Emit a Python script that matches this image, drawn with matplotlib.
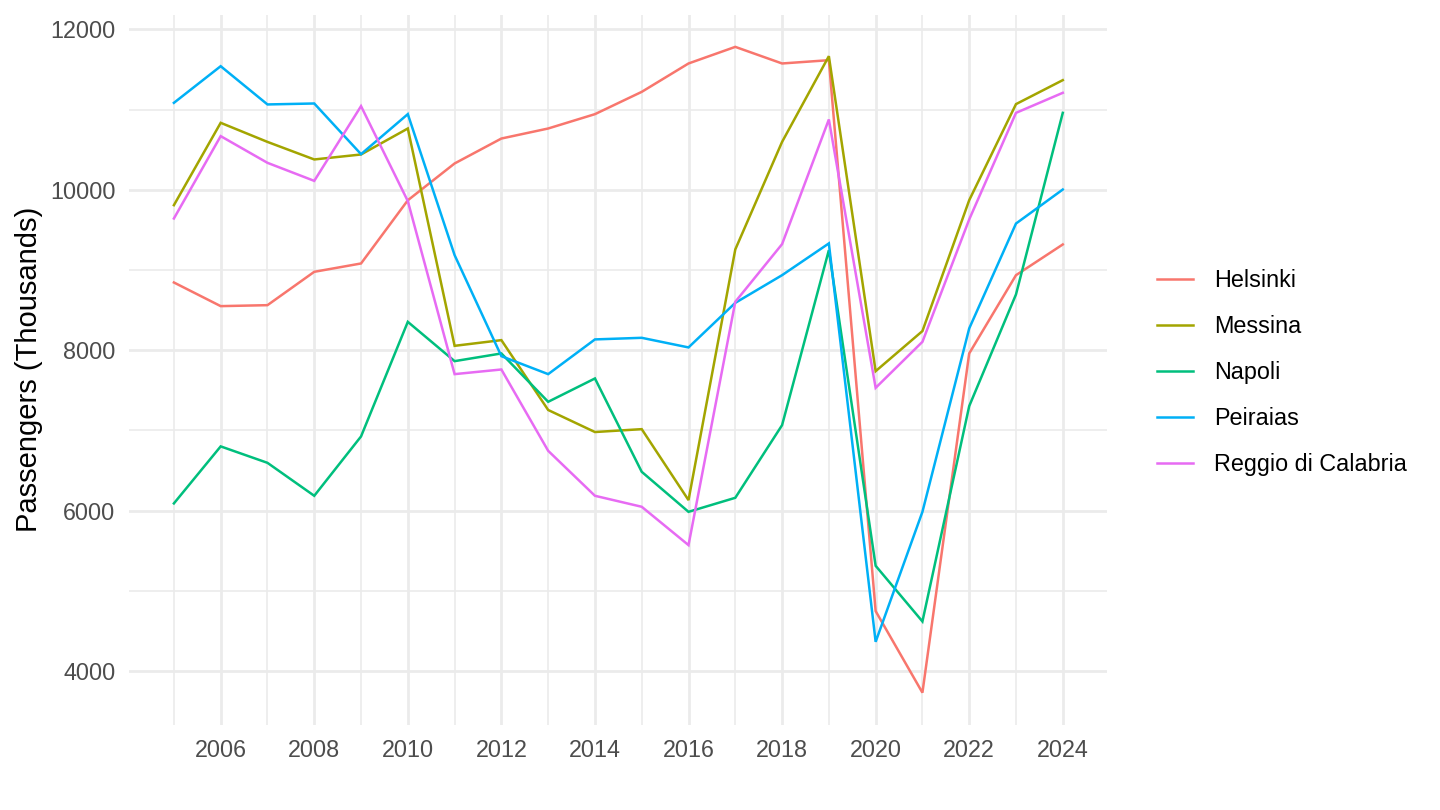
import numpy as np
import matplotlib
matplotlib.use("Agg")
from matplotlib import pyplot as plt
from matplotlib.ticker import MultipleLocator

plt.rcParams['font.family'] = ['Liberation Sans', 'DejaVu Sans']

# Passengers per port, thousands
years = list(range(2005, 2025))
helsinki = [8845, 8550, 8562, 8978, 9082, 9870, 10329, 10640, 10765, 10944,
            11222, 11576, 11783, 11576, 11617, 4747, 3730, 7960, 8936, 9319]
messina = [9809, 10836, 10598, 10379, 10441, 10765, 8055, 8126, 7255, 6980,
           7016, 6131, 9257, 10598, 11667, 7739, 8239, 9871, 11069, 11368]
napoli = [6090, 6801, 6596, 6185, 6925, 8354, 7864, 7960, 7357, 7648,
          6484, 5985, 6160, 7066, 9248, 5312, 4618, 7303, 8696, 10960]
peiraias = [11085, 11542, 11065, 11077, 10445, 10944, 9186, 7926, 7702, 8135,
            8155, 8035, 8591, 8936, 9332, 4364, 5985, 8272, 9580, 10004]
reggio = [9643, 10670, 10337, 10112, 11044, 9860, 7702, 7760, 6746, 6185,
          6048, 5570, 8604, 9323, 10878, 7531, 8105, 9631, 10960, 11210]

ports = ["Helsinki", "Messina", "Napoli", "Peiraias", "Reggio di Calabria"]
series = [helsinki, messina, napoli, peiraias, reggio]
colors = ["#F8766D", "#A3A500", "#00BF7D", "#00B0F6", "#E76BF3"]

fig = plt.figure(figsize=(14.4, 8.1), dpi=100)
ax = fig.add_axes([0.0899, 0.105, 0.679, 0.877])

for name, vals, col in zip(ports, series, colors):
    ax.plot(years, vals, color=col, lw=1.8, label=name, solid_joinstyle='miter')

# ggplot-like expansion of 5%
allv = np.concatenate([np.array(s) for s in series])
lo, hi = allv.min(), allv.max()
pad = (hi - lo) * 0.05
ax.set_ylim(lo - pad, hi + pad)
ax.set_xlim(years[0] - 0.05 * (years[-1] - years[0]), years[-1] + 0.05 * (years[-1] - years[0]))

ax.xaxis.set_major_locator(MultipleLocator(2))
ax.xaxis.set_minor_locator(MultipleLocator(1))
ax.yaxis.set_major_locator(MultipleLocator(2000))
ax.yaxis.set_minor_locator(MultipleLocator(1000))

ax.grid(which='major', color='#EBEBEB', lw=2.0)
ax.grid(which='minor', color='#EBEBEB', lw=1.2)
ax.set_axisbelow(True)
for s in ax.spines.values():
    s.set_visible(False)
ax.tick_params(which='both', length=0)
ax.tick_params(axis='x', labelsize=16.8, labelcolor='#4D4D4D', pad=10)
ax.tick_params(axis='y', labelsize=16.8, labelcolor='#4D4D4D', pad=10)

ax.set_ylabel("Passengers (Thousands)", fontsize=21, color='black')
ax.yaxis.set_label_coords(-0.0885, 0.5)

fig.legend(loc='center left', bbox_to_anchor=(0.8035, 0.540), frameon=False,
           fontsize=16.8, handlelength=1.54, handletextpad=0.9, labelspacing=0.99,
           borderpad=0, borderaxespad=0)

fig.savefig("out.png", dpi=100)
